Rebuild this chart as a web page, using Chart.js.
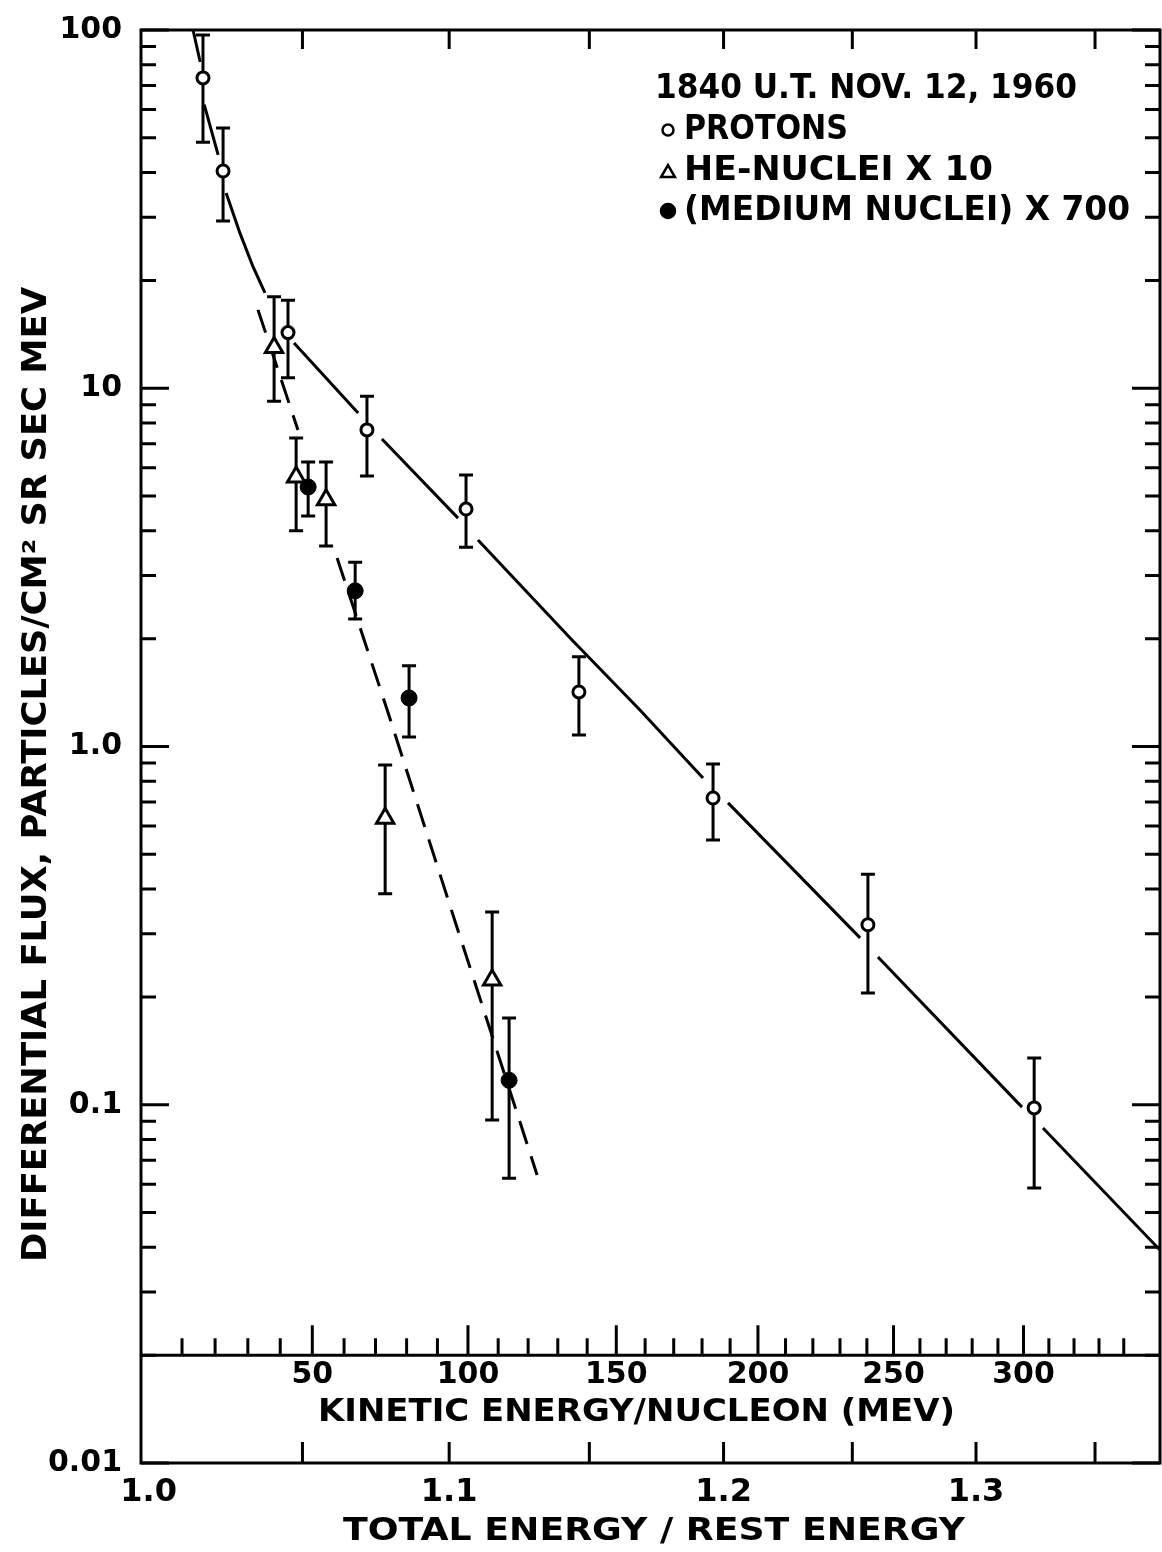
<!DOCTYPE html>
<html>
<head>
<meta charset="utf-8">
<script src="https://cdn.jsdelivr.net/npm/chart.js@4.4.1/dist/chart.umd.min.js"></script>
<style>
  html, body { margin: 0; padding: 0; background: #fff; }
  #wrap { width: 1162px; height: 1552px; }
</style>
</head>
<body>
<div id="wrap"><canvas id="fluxChart" width="1162" height="1552"></canvas></div>
<script>
// Total energy / rest energy and differential flux (particles / cm2 sr sec MeV)
const protonE    = [1.0174, 1.0239, 1.0452, 1.0717, 1.1059, 1.1462, 1.1960, 1.2562, 1.3242];
const protonFlux = [73.5, 40.4, 14.3, 7.65, 4.60, 1.42, 0.718, 0.318, 0.098];
const protonLo   = [48.6, 29.3, 10.7, 5.69, 3.60, 1.077, 0.548, 0.205, 0.0586];
const protonHi   = [96.9, 53.3, 17.6, 9.50, 5.73, 1.78, 0.894, 0.44, 0.135];

// He nuclei, already multiplied by 10
const heE    = [1.0406, 1.0479, 1.0579, 1.0779, 1.1151];
const heFlux = [13.0, 5.65, 4.88, 0.631, 0.223];
const heLo   = [9.2, 4.0, 3.63, 0.388, 0.0907];
const heHi   = [18.0, 7.26, 6.22, 0.888, 0.345];

// medium nuclei, multiplied by 700
const medE    = [1.0519, 1.0677, 1.0861, 1.1211];
const medFlux = [5.30, 2.72, 1.366, 0.117];
const medLo   = [4.40, 2.27, 1.063, 0.0624];
const medHi   = [6.22, 3.27, 1.68, 0.1746];

// hand-drawn proton curve (null = break in the pen line)
const protonFitE = [1.0142, 1.0165, null, 1.0178, 1.0223, null, 1.0249, 1.0294, 1.0337, 1.0376, null,
                    1.0472, 1.0687, null, 1.0768, 1.1031, null, 1.1101, 1.1437, 1.1686, 1.1922, null,
                    1.2017, 1.2531, null, 1.2602, 1.3191, null, 1.3279, 1.3781];
const protonFitFlux = [100, 81.4, null, 61.9, 44.8, null, 35.1, 27.1, 21.8, 18.45, null,
                       13.37, 8.53, null, 7.22, 4.34, null, 3.77, 1.984, 1.264, 0.817, null,
                       0.696, 0.2922, null, 0.2585, 0.0985, null, 0.0861, 0.0393];

// dashed curve through the heavier nuclei
const heavyFitE    = [1.0353, 1.0485, null, 1.0616, 1.0786, 1.1028, 1.1311];
const heavyFitFlux = [16.55, 7.65, null, 3.36, 1.265, 0.3116, 0.0637];

const xTickValues = [1.0, 1.1, 1.2, 1.3];
const xTickLabels = ['1.0', '1.1', '1.2', '1.3'];
const xMinorTicks = [1.05, 1.10, 1.15, 1.20, 1.25, 1.30, 1.35];
const yTickValues = [0.01, 0.1, 1, 10, 100];
const yTickLabels = ['0.01', '0.1', '1.0', '10', '100'];
const keLabels = [50, 100, 150, 200, 250, 300];
const keMax = 340;
const REST_MEV = 938.3;

const INK = '#000';
const FAMILY = '"DejaVu Sans", "Liberation Sans", sans-serif';

function pts(xs, ys) {
  return xs.map((x, i) => ({ x: x, y: ys[i] }));
}

function fitText(ctx, text, x, y, width, size) {
  ctx.save();
  ctx.font = 'bold ' + size + 'px ' + FAMILY;
  const w = ctx.measureText(text).width;
  ctx.translate(x, y);
  ctx.scale(width / w, 1);
  ctx.textAlign = 'left';
  ctx.textBaseline = 'middle';
  ctx.fillStyle = INK;
  ctx.fillText(text, 0, 0);
  ctx.restore();
}

function errorBars(chart, xs, lo, hi) {
  const { ctx } = chart;
  const xs_ = chart.scales.x, ys_ = chart.scales.y;
  ctx.save();
  ctx.strokeStyle = INK;
  ctx.lineWidth = 3;
  xs.forEach((e, i) => {
    const px = xs_.getPixelForValue(e);
    const top = ys_.getPixelForValue(hi[i]);
    const bot = ys_.getPixelForValue(lo[i]);
    ctx.beginPath();
    ctx.moveTo(px, top); ctx.lineTo(px, bot);
    ctx.moveTo(px - 7, top); ctx.lineTo(px + 7, top);
    ctx.moveTo(px - 7, bot); ctx.lineTo(px + 7, bot);
    ctx.stroke();
  });
  ctx.restore();
}

const errorBarPlugin = {
  id: 'errorBars',
  beforeDatasetsDraw(chart) {
    errorBars(chart, protonE, protonLo, protonHi);
    errorBars(chart, heE, heLo, heHi);
    errorBars(chart, medE, medLo, medHi);
  }
};

// frame with inward ticks, inner kinetic energy scale, titles and key
const framePlugin = {
  id: 'frame',
  afterDraw(chart) {
    const { ctx, chartArea: a } = chart;
    const xs = chart.scales.x, ys = chart.scales.y;
    ctx.save();
    ctx.strokeStyle = INK;
    ctx.lineWidth = 3;
    ctx.strokeRect(a.left, a.top, a.right - a.left, a.bottom - a.top);

    ctx.beginPath();
    // log ticks on left and right
    for (let d = 0.01; d < 150; d *= 10) {
      for (let m = 1; m <= 9; m++) {
        const v = d * m;
        if (v > 100.001) break;
        const py = ys.getPixelForValue(v);
        const len = m === 1 ? 28 : 15;
        ctx.moveTo(a.left, py); ctx.lineTo(a.left + len, py);
        ctx.moveTo(a.right, py); ctx.lineTo(a.right - len, py);
      }
    }
    // top and bottom ticks every 0.05
    xMinorTicks.forEach(v => {
      const px = xs.getPixelForValue(v);
      ctx.moveTo(px, a.top); ctx.lineTo(px, a.top + 19);
      ctx.moveTo(px, a.bottom); ctx.lineTo(px, a.bottom - 21);
    });
    ctx.stroke();

    // kinetic energy per nucleon scale drawn at flux = 0.02
    const keY = ys.getPixelForValue(0.02);
    ctx.beginPath();
    ctx.moveTo(a.left, keY); ctx.lineTo(a.right, keY);
    for (let ke = 10; ke <= keMax; ke += 10) {
      const px = xs.getPixelForValue(1 + ke / REST_MEV);
      ctx.moveTo(px, keY); ctx.lineTo(px, keY - (ke % 50 === 0 ? 30 : 17));
    }
    ctx.stroke();

    ctx.fillStyle = INK;
    ctx.font = 'bold 30px ' + FAMILY;
    ctx.textAlign = 'center';
    ctx.textBaseline = 'middle';
    keLabels.forEach(ke => {
      ctx.fillText(String(ke), xs.getPixelForValue(1 + ke / REST_MEV), keY + 20);
    });
    fitText(ctx, 'KINETIC ENERGY/NUCLEON (MEV)', 318, 1413, 637, 32);
    fitText(ctx, 'TOTAL ENERGY / REST ENERGY', 343, 1532, 622, 32);

    // vertical axis title
    ctx.save();
    ctx.translate(37, 1262);
    ctx.rotate(-Math.PI / 2);
    fitText(ctx, 'DIFFERENTIAL FLUX, PARTICLES/CM\u00B2 SR SEC MEV', 0, 0, 975, 33);
    ctx.restore();

    // key
    fitText(ctx, '1840 U.T. NOV. 12, 1960', 655, 89, 422, 33);
    fitText(ctx, 'PROTONS', 684, 130, 164, 33);
    fitText(ctx, 'HE-NUCLEI X 10', 684, 171, 309, 33);
    fitText(ctx, '(MEDIUM NUCLEI) X 700', 684, 211, 446, 33);
    const dp = Chart.helpers.drawPoint;
    ctx.lineWidth = 2.5;
    ctx.fillStyle = '#fff';
    dp(ctx, { pointStyle: 'circle', radius: 5.5, borderWidth: 2.5 }, 668, 130);
    ctx.fillStyle = '#fff';
    dp(ctx, { pointStyle: 'triangle', radius: 8, borderWidth: 2.5 }, 668, 173);
    ctx.fillStyle = INK;
    dp(ctx, { pointStyle: 'circle', radius: 7, borderWidth: 1 }, 668, 211);
    ctx.restore();
  }
};

const ctx = document.getElementById('fluxChart').getContext('2d');
const fluxChart = new Chart(ctx, {
  type: 'scatter',
  data: {
    datasets: [
      {
        label: 'proton fit',
        data: pts(protonFitE, protonFitFlux),
        showLine: true, spanGaps: false,
        borderColor: INK, borderWidth: 3,
        pointRadius: 0, order: 5
      },
      {
        label: 'nuclei fit',
        data: pts(heavyFitE, heavyFitFlux),
        showLine: true, spanGaps: false,
        borderColor: INK, borderWidth: 3, borderDash: [24, 13],
        pointRadius: 0, order: 4
      },
      {
        label: 'PROTONS',
        data: pts(protonE, protonFlux),
        pointStyle: 'circle', pointRadius: 6, pointBorderWidth: 3,
        pointBackgroundColor: '#fff', pointBorderColor: INK, order: 1
      },
      {
        label: 'HE-NUCLEI X 10',
        data: pts(heE, heFlux),
        pointStyle: 'triangle', pointRadius: 10, pointBorderWidth: 3,
        pointBackgroundColor: '#fff', pointBorderColor: INK, order: 1
      },
      {
        label: '(MEDIUM NUCLEI) X 700',
        data: pts(medE, medFlux),
        pointStyle: 'circle', pointRadius: 8, pointBorderWidth: 1,
        pointBackgroundColor: INK, pointBorderColor: INK, order: 1
      }
    ]
  },
  options: {
    responsive: false,
    animation: false,
    layout: { autoPadding: false, padding: { top: 30, right: 2, left: 0, bottom: 0 } },
    scales: {
      x: {
        type: 'logarithmic',
        min: 0.9976, max: 1.3781,
        afterFit(s) { s.height = 89; s.paddingLeft = 0; s.paddingRight = 0; },
        afterBuildTicks(s) { s.ticks = xTickValues.map(v => ({ value: v })); },
        grid: { display: false },
        border: { display: false },
        ticks: {
          autoSkip: false, maxRotation: 0, padding: 2,
          color: INK, font: { family: FAMILY, size: 32, weight: 'bold' },
          callback: (v, i) => xTickLabels[i]
        }
      },
      y: {
        type: 'logarithmic',
        min: 0.01, max: 100,
        afterFit(s) { s.width = 141; s.paddingTop = 0; s.paddingBottom = 0; },
        afterBuildTicks(s) { s.ticks = yTickValues.map(v => ({ value: v })); },
        grid: { display: false },
        border: { display: false },
        ticks: {
          autoSkip: false, padding: 11,
          color: INK, font: { family: FAMILY, size: 30, weight: 'bold' },
          callback: (v, i) => yTickLabels[i]
        }
      }
    },
    plugins: {
      legend: { display: false },
      tooltip: { enabled: false }
    }
  },
  plugins: [errorBarPlugin, framePlugin]
});
</script>
</body>
</html>
